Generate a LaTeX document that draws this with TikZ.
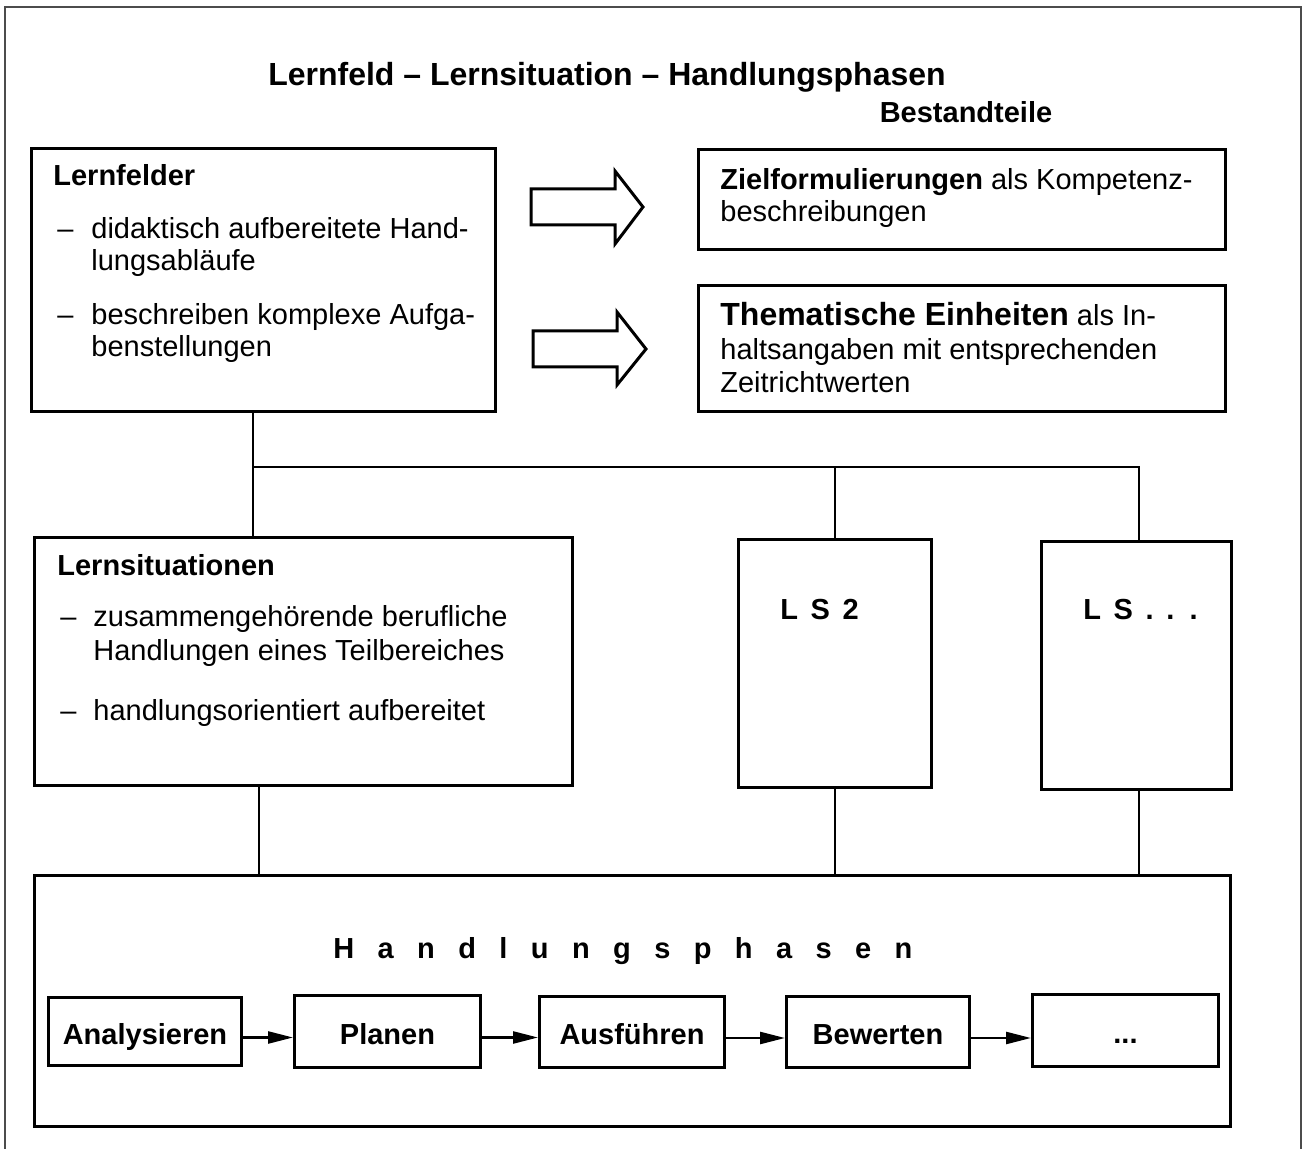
\documentclass[tikz,border=0pt]{standalone}
\usepackage{fontspec}
\setmainfont{Liberation Sans}
\usetikzlibrary{arrows.meta}

\newcommand{\bodyfont}{\fontsize{14.5}{16.5}\selectfont}

\begin{document}
\begin{tikzpicture}[x=0.5pt, y=-0.5pt,
    box/.style={draw, line width=1.5pt, anchor=north west, inner sep=0pt},
    phase/.style={draw, line width=1.5pt, anchor=north west, inner sep=0pt, text height=13pt, text depth=0pt, font=\bodyfont\bfseries},
    txt/.style={anchor=base west, inner sep=0pt, font=\bodyfont},
    hd/.style={anchor=base west, inner sep=0pt, font=\bodyfont\bfseries},
    link/.style={line width=1.25pt},
    flow/.style={line width=1.25pt, -{Triangle[length=12.5pt,width=6pt]}},
    fat/.style={draw, line width=1.5pt, fill=white}]
\useasboundingbox (0,0) rectangle (1303,1149);

% frame, open at the bottom
\draw[line width=1pt, black!70] (5,1149) -- (5,7) -- (1301,7) -- (1301,1149);

\node[anchor=base, inner sep=0pt, font=\fontsize{16}{18}\selectfont\bfseries] (title) at (607,86) {Lernfeld – Lernsituation – Handlungsphasen};
\node[anchor=base, inner sep=0pt, font=\bodyfont\bfseries] (bt) at (966,123) {Bestandteile};

% boxes
\node[box, minimum width=232pt, minimum height=131.5pt] (lf) at (30,147) {};
\node[box, minimum width=263.5pt, minimum height=50pt] (zf) at (697,148) {};
\node[box, minimum width=263.5pt, minimum height=63pt] (te) at (697,284) {};
\node[box, minimum width=269pt, minimum height=124pt] (ls1) at (33,536) {};
\node[box, minimum width=96.5pt, minimum height=124pt] (ls2) at (737,538) {};
\node[box, minimum width=95pt, minimum height=124pt] (ls3) at (1040,540) {};
\node[box, minimum width=598pt, minimum height=125.5pt] (hp) at (33,874) {};

% Lernfelder
\node[hd] (lfh) at (53,186) {Lernfelder};
\node[txt] (lfd1) at (57,239) {–};
\node[txt] (lf1) at (91,239) {didaktisch aufbereitete Hand-};
\node[txt] (lf2) at (91,271) {lungsabläufe};
\node[txt] (lfd2) at (57,325) {–};
\node[txt] (lf3) at (91,325) {beschreiben komplexe Aufga-};
\node[txt] (lf4) at (91,357) {benstellungen};

% Bestandteile
\node[txt] (zf1) at (720,190) {\textbf{Zielformulierungen} als Kompetenz-};
\node[txt] (zf2) at (720,222) {beschreibungen};
\node[txt] (te1) at (720,326) {{\fontsize{16}{18}\selectfont\bfseries Thematische Einheiten} als In-};
\node[txt] (te2) at (720,360) {haltsangaben mit entsprechenden};
\node[txt] (te3) at (720,393) {Zeitrichtwerten};

% block arrows
\draw[fat] (531,189) -- (615,189) -- (615,171) -- (643,207) -- (615,244) -- (615,225) -- (531,225) -- cycle;
\draw[fat] (533,331) -- (617,331) -- (617,312) -- (646,349) -- (617,385) -- (617,367) -- (533,367) -- cycle;

% Lernsituationen
\node[hd] (lsh) at (57,576) {Lernsituationen};
\node[txt] (lsd1) at (60,627) {–};
\node[txt] (ls11) at (93,627) {zusammengehörende berufliche};
\node[txt] (ls12) at (93,661) {Handlungen eines Teilbereiches};
\node[txt] (lsd2) at (60,721) {–};
\node[txt] (ls13) at (93,721) {handlungsorientiert aufbereitet};

\node[hd] (ls2t) at (780,620) {\spaceskip=6.3pt L S 2};
\node[hd] (ls3t) at (1083,620) {\spaceskip=6.3pt L S . . .};

% tree
\coordinate (jl) at (253,467);
\coordinate (jr) at (1139,467);
\coordinate (dl) at (259,874);
\draw[link] (jl |- lf.south) -- (jl) -- (jr) -- (jr |- ls3.north);
\draw[link] (jl) -- (jl |- ls1.north);
\draw[link] (ls2.north) -- (ls2.north |- jl);
\draw[link] (dl |- ls1.south) -- (dl |- hp.north);
\draw[link] (ls2.south) -- (ls2.south |- hp.north);
\draw[link] (jr |- ls3.south) -- (jr |- hp.north);

% Handlungsphasen
\node[hd] (hpt) at (333,959) {\spaceskip=11.7pt H a n d l u n g s p h a s e n};
\node[phase, minimum width=96.5pt, minimum height=34pt] (an) at (47,996) {Analysieren};
\node[phase, minimum width=93pt, minimum height=36pt] (pl) at (293,994) {Planen};
\node[phase, minimum width=92.5pt, minimum height=35.5pt] (au) at (538,995) {Ausführen};
\node[phase, minimum width=91.5pt, minimum height=35.5pt] (bw) at (785,995) {Bewerten};
\node[phase, minimum width=93pt, minimum height=36pt] (dd) at (1031,993) {...};
\foreach \a/\b in {an/pl, pl/au, au/bw, bw/dd}
  \draw[flow] ([yshift=-3pt]\a.east) -- ([yshift=-3pt]\a.east -| \b.west);
\end{tikzpicture}
\end{document}
